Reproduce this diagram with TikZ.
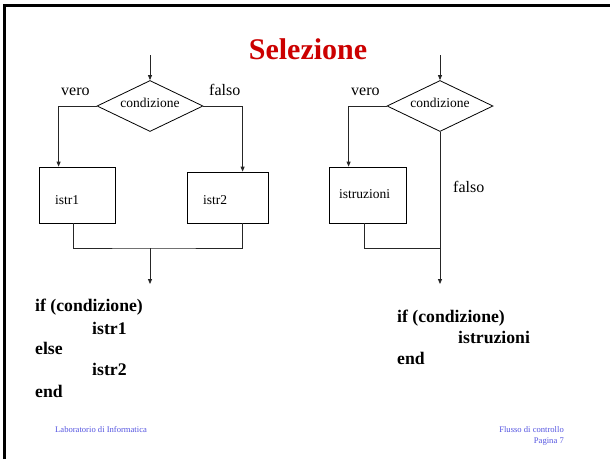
\documentclass[tikz,border=0pt]{standalone}
\usepackage{fontspec}
\setmainfont{Liberation Serif}
\usetikzlibrary{shapes.geometric,arrows.meta,calc}
\definecolor{titlered}{RGB}{204,0,0}
\definecolor{footblue}{RGB}{85,85,225}
\begin{document}
\begin{tikzpicture}[x=1pt,y=-1pt,
 flow/.style={line width=0.8pt, draw=black!85},
 arr/.style={flow,-{Triangle[length=5pt,width=4pt]}},
 dec/.style={diamond, draw, line width=0.8pt, minimum width=106pt, minimum height=51pt, inner sep=0pt},
 blk/.style={rectangle, draw, line width=0.8pt, inner sep=0pt},
 small/.style={font=\fontsize{13.5}{15}\selectfont, inner sep=0pt},
 lab/.style={font=\fontsize{16}{18}\selectfont, inner sep=0pt, anchor=base west},
 code/.style={font=\fontsize{17.7}{20}\selectfont\bfseries, inner sep=0pt, anchor=base west},
 foot/.style={font=\fontsize{8.6}{10}\selectfont, text=footblue, inner sep=0pt}]
\useasboundingbox (0,0) rectangle (610,459);
\fill[white] (0,0) rectangle (610,459);
\draw[line width=2.7pt] (4.7,459) -- (4.7,5.3) -- (610,5.3);

% title
\node[font=\fontsize{30}{34}\selectfont\bfseries, text=titlered, anchor=base, inner sep=0pt] (title) at (308,59) {Selezione};

% left diagram
\node[dec] (d1) at (150,106) {};
\node[small] (c1) at (150,102.4) {condizione};
\node[blk, minimum width=76pt, minimum height=56pt] (b1) at (77,195) {};
\node[blk, minimum width=81pt, minimum height=51pt] (b2) at (227.5,197.5) {};
\node[small, anchor=base west] (t1) at (55,204) {istr1};
\node[small, anchor=base west] (t2) at (203,204) {istr2};
\node[lab] (v1) at (61,95) {vero};
\node[lab] (f1) at (209,95) {falso};
\coordinate (s1) at (150,55);
\coordinate (m1) at (150,248);
\coordinate (e1) at (150,284);
\draw[arr] (s1) -- (d1.north);
\draw[arr] (d1.west) -| ($(b1.north west)+(20,0)$);
\draw[arr] (d1.east) -| ($(b2.north west)+(56,0)$);
\draw[flow] ($(b1.south west)+(35,0)$) |- (m1) -| ($(b2.south west)+(56,0)$);
\draw[arr] (m1) -- (e1);

% right diagram
\node[dec] (d2) at (440,106) {};
\node[small] (c2) at (440,102.4) {condizione};
\node[blk, minimum width=77pt, minimum height=56pt] (b3) at (367.5,195) {};
\node[small, anchor=base west] (t3) at (339,198) {istruzioni};
\node[lab] (v2) at (351,95) {vero};
\node[lab] (f2) at (453,192) {falso};
\coordinate (s2) at (440,55);
\coordinate (m2) at (440,248);
\coordinate (e2) at (440,284);
\draw[arr] (s2) -- (d2.north);
\draw[arr] (d2.west) -| ($(b3.north west)+(20,0)$);
\draw[arr] (d2.south) -- (e2);
\draw[flow] ($(b3.south west)+(36,0)$) |- (m2);

% code
\node[code] (l1) at (35,311) {if (condizione)};
\node[code] (l2) at (92,334) {istr1};
\node[code] (l3) at (35,354) {else};
\node[code] (l4) at (92,375) {istr2};
\node[code] (l5) at (35,397) {end};
\node[code] (r1) at (397,322) {if (condizione)};
\node[code] (r2) at (458,343) {istruzioni};
\node[code] (r3) at (397,364) {end};

% footer
\node[foot, anchor=base west] (fl) at (55,432) {Laboratorio di Informatica};
\node[foot, anchor=base east] (fr1) at (564,432) {Flusso di controllo};
\node[foot, anchor=base east] (fr2) at (564,443) {Pagina 7};
\end{tikzpicture}
\end{document}
